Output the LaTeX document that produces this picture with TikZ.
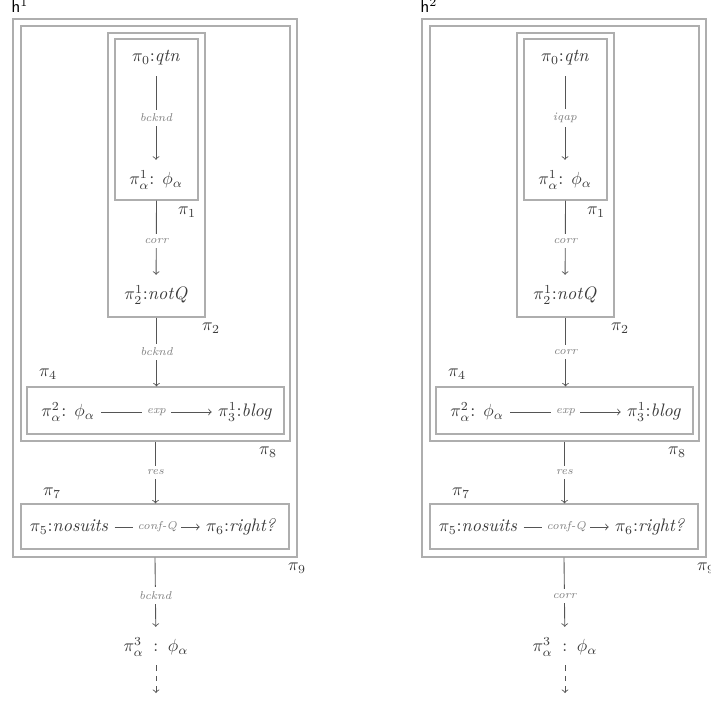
\documentclass[tikz,border=0pt]{standalone}
\usetikzlibrary{fit}
\definecolor{boxc}{HTML}{AEAEAE}
\definecolor{linec}{HTML}{555555}
\definecolor{txtc}{HTML}{3A3A3A}
\definecolor{labc}{HTML}{808080}
\tikzset{
  box/.style={draw=boxc, line width=0.65pt, inner sep=0pt},
  txt/.style={text=txtc, inner sep=2pt, font=\fontsize{10.3}{12}\selectfont},
  blab/.style={text=txtc, inner sep=0pt, font=\fontsize{10.3}{12}\selectfont},
  hlab/.style={text=black, inner sep=0pt, font=\sffamily\fontsize{10}{12}\selectfont},
  conn/.style={draw=linec, line width=0.5pt, ->},
  vconn/.style={conn, shorten <=4pt, shorten >=4pt},
  bconn/.style={conn, shorten >=4pt},
  hconn/.style={conn, shorten <=1.5pt, shorten >=1.5pt},
  elab/.style={fill=white, text=labc, inner sep=2.5pt, font=\fontsize{6.5}{7}\selectfont\itshape},
}
\newcommand\hdiagram[5]{%
  \node[hlab, anchor=base west] (h#2) at ({#1+11},12.5) {h$^{#2}$};
  \node[box, fit={({#1+13},19) ({#1+297},557)}] (pnine#2) {};
  \node[box, fit={({#1+21},26) ({#1+290},441)}] (peight#2) {};
  \node[box, fit={({#1+108},33) ({#1+205},317)}] (ptwo#2) {};
  \node[box, fit={({#1+115},39) ({#1+198},200)}] (pone#2) {};
  \node[box, fit={({#1+27},387) ({#1+284},434)}] (pfour#2) {};
  \node[box, fit={({#1+21},504) ({#1+289},549)}] (pseven#2) {};
  \node[txt] (qtn#2) at ({#1+156},58) {$\pi_0$:\textit{qtn}};
  \node[txt] (pa1#2) at ({#1+156},180) {$\pi^1_\alpha$: $\phi_\alpha$};
  \node[txt] (notq#2) at ({#1+156},295) {$\pi^1_2$:\textit{notQ}};
  \node[txt] (pa2#2) at ({#1+68},412) {$\pi^2_\alpha$: $\phi_\alpha$};
  \node[txt] (blog#2) at ({#1+245},412) {$\pi^1_3$:\textit{blog}};
  \node[txt] (nos#2) at ({#1+69},527) {$\pi_5$:\textit{nosuits}};
  \node[txt] (right#2) at ({#1+241},527) {$\pi_6$:\textit{right?}};
  \node[txt] (pa3#2) at ({#1+156},647) {$\pi^3_\alpha \;:\; \phi_\alpha$};
  \coordinate (end#2) at ({#1+156},693);
  \node[blab] (lone#2) at ({#1+187},212) {$\pi_1$};
  \node[blab] (ltwo#2) at ({#1+211},328) {$\pi_2$};
  \node[blab] (lfour#2) at ({#1+48},374) {$\pi_4$};
  \node[blab] (leight#2) at ({#1+268},452) {$\pi_8$};
  \node[blab] (lseven#2) at ({#1+52},493) {$\pi_7$};
  \node[blab] (lnine#2) at ({#1+297},568) {$\pi_9$};
  \draw[vconn] (qtn#2) -- node[elab] {#3} (pa1#2);
  \draw[bconn] (pone#2.south) -- node[elab] {corr} (notq#2);
  \draw[conn] (ptwo#2.south) -- node[elab] {#4} (ptwo#2.south |- pfour#2.north);
  \draw[hconn] (pa2#2) -- node[elab] {exp} (blog#2);
  \draw[conn] (peight#2.south) -- node[elab] {res} (peight#2.south |- pseven#2.north);
  \draw[hconn] (nos#2) -- node[elab] {conf-Q} (right#2);
  \draw[bconn] (pnine#2.south) -- node[elab] {#5} (pa3#2);
  \draw[conn, dashed, shorten <=3pt] (pa3#2) -- (end#2);
}
\begin{document}
\begin{tikzpicture}[x=0.57pt, y=-0.57pt]
  \useasboundingbox (0,0) rectangle (711,703);
  \hdiagram{0}{1}{bcknd}{bcknd}{bcknd}
  \hdiagram{409}{2}{iqap}{corr}{corr}
\end{tikzpicture}
\end{document}
